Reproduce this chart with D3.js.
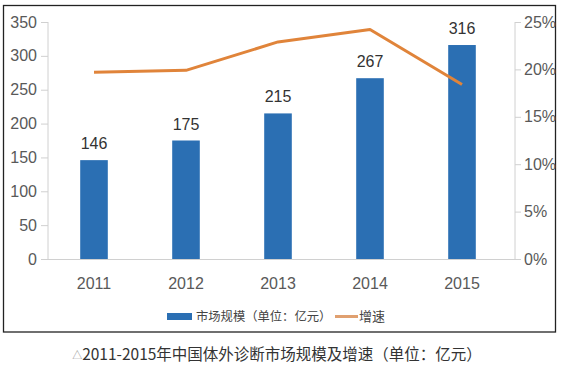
<!DOCTYPE html>
<html><head><meta charset="utf-8">
<script src="https://cdn.jsdelivr.net/npm/d3@7"></script>
<style>
body{margin:0;background:#fff;}
svg{display:block;}
.num{font-family:"Liberation Sans",Arial,sans-serif;}
</style></head>
<body>
<svg id="c" width="562" height="370"></svg>
<script>
const years = ["2011","2012","2013","2014","2015"];
const marketSize = [146,175,215,267,316];
const growthRate = [19.7,19.9,22.9,24.2,18.4];
const leftTicks = [0,50,100,150,200,250,300,350];
const rightTicks = [0,5,10,15,20,25];
const legendLabels = ["市场规模（单位：亿元）","增速"];
const caption = "2011-2015年中国体外诊断市场规模及增速（单位：亿元）";

const svg = d3.select("#c");
const L = 48, R = 515, T = 22, B = 259;
const x = d3.scaleBand().domain(years).range([L, 508]).paddingInner(0.7).paddingOuter(0.35);
const y = d3.scaleLinear().domain([0,350]).range([B,T]);
const y2 = d3.scaleLinear().domain([0,25]).range([B,T]);
const textCol = "#595959";
const numFont = "'Liberation Sans', Arial, sans-serif";
const cjkFont = "'Noto Sans CJK SC', sans-serif";

// border
svg.append("rect").attr("x",3.5).attr("y",5.5).attr("width",552).attr("height",326.5)
  .attr("fill","none").attr("stroke","#222").attr("stroke-width",1.3);

// left axis
const ga = svg.append("g").attr("transform",`translate(${L},0)`)
  .call(d3.axisLeft(y).tickValues(leftTicks).tickSize(7).tickPadding(4));
ga.attr("font-family",numFont).attr("font-size",16);
ga.select(".domain").attr("stroke","#d0d0d0").attr("d",`M0,${T}V${B}`);
ga.selectAll(".tick line").attr("stroke","#d0d0d0");
ga.selectAll("text").attr("fill",textCol);

// right axis
const gr = svg.append("g").attr("transform",`translate(${R},0)`)
  .call(d3.axisRight(y2).tickValues(rightTicks).tickFormat(d=>d+"%").tickSize(6).tickPadding(3));
gr.attr("font-family",numFont).attr("font-size",16);
gr.select(".domain").attr("stroke","#d0d0d0").attr("d",`M0,${T}V${B}`);
gr.selectAll(".tick line").attr("stroke","#d0d0d0");
gr.selectAll("text").attr("fill",textCol);

// baseline
svg.append("line").attr("x1",L).attr("x2",R).attr("y1",B+0.5).attr("y2",B+0.5).attr("stroke","#d0d0d0");

// bars
svg.selectAll("rect.bar").data(years).enter().append("rect").attr("class","bar")
  .attr("x",d=>x(d)).attr("width",x.bandwidth())
  .attr("y",(d,i)=>y(marketSize[i])).attr("height",(d,i)=>B-y(marketSize[i]))
  .attr("fill","#2b6fb3");

// bar labels
svg.selectAll("text.val").data(years).enter().append("text").attr("class","val")
  .attr("x",d=>x(d)+x.bandwidth()/2).attr("y",(d,i)=>y(marketSize[i])-11)
  .attr("text-anchor","middle").attr("fill","#333").attr("font-size",16)
  .attr("font-family",numFont).text((d,i)=>marketSize[i]);

// x labels
svg.selectAll("text.yr").data(years).enter().append("text").attr("class","yr")
  .attr("x",d=>x(d)+x.bandwidth()/2).attr("y",289)
  .attr("text-anchor","middle").attr("fill",textCol).attr("font-size",16)
  .attr("font-family",numFont).text(d=>d);

// line
const line = d3.line().x((d,i)=>x(years[i])+x.bandwidth()/2).y(d=>y2(d));
svg.append("path").datum(growthRate).attr("d",line).attr("fill","none")
  .attr("stroke","#e0843a").attr("stroke-width",3).attr("stroke-linejoin","round");

// legend
const lg = svg.append("g");
lg.append("rect").attr("x",167).attr("y",313).attr("width",25).attr("height",7).attr("fill","#2b6fb3");
lg.append("text").attr("x",196).attr("y",321).attr("font-size",12.3).attr("fill","#444")
  .attr("font-family",cjkFont).text(legendLabels[0]);
lg.append("line").attr("x1",335).attr("x2",358).attr("y1",316.5).attr("y2",316.5)
  .attr("stroke","#e0a070").attr("stroke-width",3);
lg.append("text").attr("x",359).attr("y",321).attr("font-size",13).attr("fill","#444")
  .attr("font-family",cjkFont).text(legendLabels[1]);

// caption
const cap = svg.append("text").attr("x",277).attr("y",360).attr("text-anchor","middle")
  .attr("font-size",15.5).attr("fill","#333").attr("font-family",cjkFont);
cap.append("tspan").attr("fill","#999").attr("font-size",10).attr("dy",-1).text("△");
cap.append("tspan").attr("dy",1).text(caption);
</script>
</body></html>
